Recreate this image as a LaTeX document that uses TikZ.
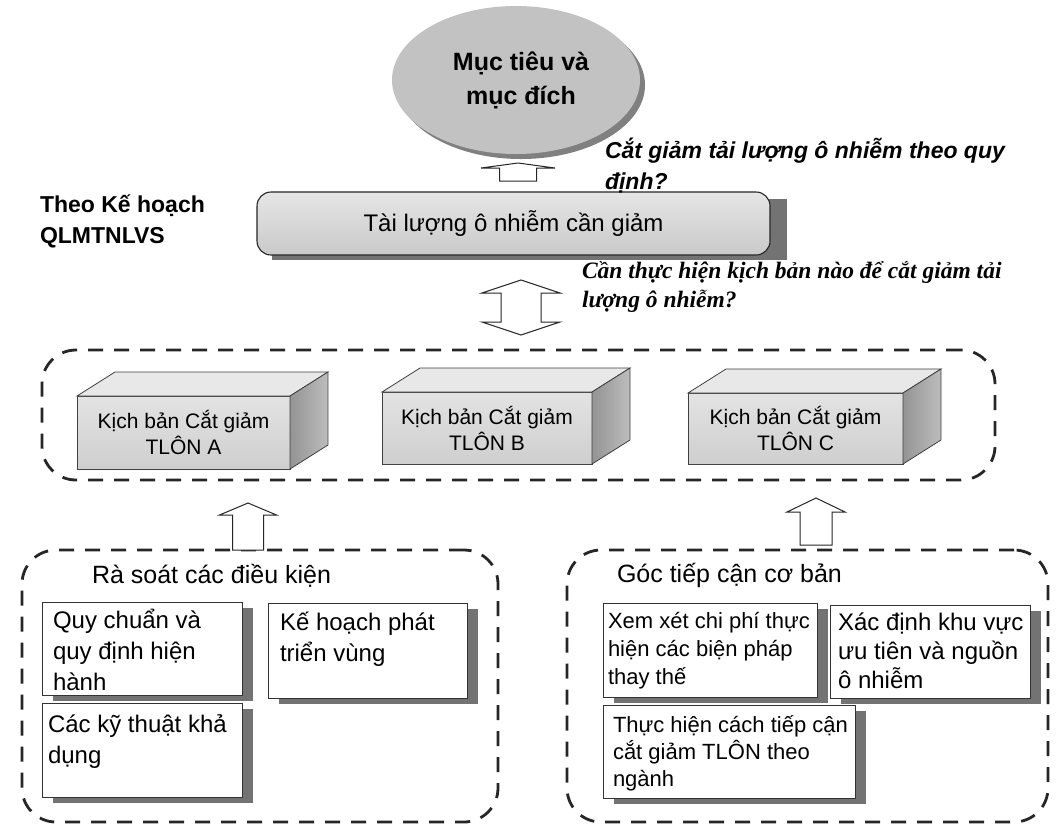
\documentclass[tikz,border=0pt]{standalone}
\usepackage{fontspec}
\setmainfont{Liberation Sans}
\newfontfamily\timesfont{Liberation Serif}
\usetikzlibrary{calc,shapes.geometric,shadows}
\newcommand\tstrut[1]{\rule{0pt}{#1pt}}

\begin{document}
\begin{tikzpicture}[x=1pt,y=-1pt,
  every node/.style={inner sep=0pt, outer sep=0pt},
  container/.style={draw=black!85, line width=2.8pt, dash pattern=on 15pt off 11pt, rounded corners=34pt},
  cubefront/.style={draw=black!75, line width=0.8pt, top color=black!11, bottom color=black!19,
    align=center, font=\fontsize{21}{26}\selectfont},
  cubetop/.style={draw=black!75, line width=0.8pt, fill=black!9},
  cubeside/.style={draw=black!75, line width=0.8pt, left color=black!42, right color=black!26},
  innerbox/.style={draw=black!80, line width=1pt, fill=white, anchor=north west,
    drop shadow={shadow xshift=11pt, shadow yshift=-6pt, fill=black!55, opacity=1}},
  itext/.style={anchor=north west, align=left, font=\fontsize{24}{31}\selectfont},
  itextsmall/.style={anchor=north west, align=left, font=\fontsize{22}{28}\selectfont},
  heading/.style={anchor=base west, font=\fontsize{25}{30}\selectfont},
  blockarrow/.style={draw=black!85, line width=1pt, fill=white, line join=miter},
  pics/uparrow/.style args={#1/#2/#3/#4}{code={%
    \draw[blockarrow] (-#1,0) -- (-#1,-#4+#3) -- (-#2,-#4+#3) -- (0,-#4)
      -- (#2,-#4+#3) -- (#1,-#4+#3) -- (#1,0) -- cycle;}},
  pics/updownarrow/.style args={#1/#2/#3/#4}{code={%
    \draw[blockarrow] (0,-#4/2) -- (#2,-#4/2+#3) -- (#1,-#4/2+#3) -- (#1,#4/2-#3)
      -- (#2,#4/2-#3) -- (0,#4/2) -- (-#2,#4/2-#3) -- (-#1,#4/2-#3)
      -- (-#1,-#4/2+#3) -- (-#2,-#4/2+#3) -- cycle;}},
]
\useasboundingbox (0,0) rectangle (1056,828);
\fill[white] (0,0) rectangle (1056,828);

% goal ellipse with its darker rim
\node[ellipse, fill=black!24, minimum width=248pt, minimum height=148pt,
  drop shadow={shadow xshift=5pt, shadow yshift=-5pt, fill=black!50, opacity=1}] (goal) at (516,80) {};
\node[anchor=north, align=center, font=\bfseries\fontsize{25}{34}\selectfont] (goaltext) at (521,46)
  {\tstrut{24}Mục tiêu và\\mục đích};

% pollution load box
\fill[black!55] (272,199) rectangle (787,260);
\node[draw=black!85, line width=1.1pt, rounded corners=14pt, top color=black!10, bottom color=black!21,
  minimum width=513pt, minimum height=63pt, font=\fontsize{24}{28}\selectfont] (load) at (513.5,223.5)
  {Tài lượng ô nhiễm cần giảm};

\node[anchor=north west, align=left, font=\bfseries\fontsize{23}{31}\selectfont] (plan) at (40,190)
  {\tstrut{22}Theo Kế hoạch\\QLMTNLVS};
\node[anchor=north west, align=left, font=\bfseries\itshape\fontsize{23}{31}\selectfont] (q1) at (605,137)
  {\tstrut{21}Cắt giảm tải lượng ô nhiễm theo quy\\định?};
\node[anchor=north west, align=left, font=\timesfont\bfseries\itshape\fontsize{23.5}{29}\selectfont] (q2) at (582,254)
  {\tstrut{24}Cần thực hiện kịch bản nào để cắt giảm tải\\lượng ô nhiễm?};

% scenario group
\node[container, minimum width=953pt, minimum height=130pt] (scen) at (518.5,415) {};
\node[cubefront, minimum width=213pt, minimum height=73pt] (scA) at (183.5,432.5) {Kịch bản Cắt giảm\\TLÔN A};
\node[cubefront, minimum width=210pt, minimum height=72pt] (scB) at (487,428) {Kịch bản Cắt giảm\\TLÔN B};
\node[cubefront, minimum width=215pt, minimum height=71pt] (scC) at (795.5,428.5) {Kịch bản Cắt giảm\\TLÔN C};
\foreach \n in {scA,scB,scC}{
  \path[cubetop] (\n.north west) -- ++(38,-24) -- ($(\n.north east)+(38,-24)$) -- (\n.north east) -- cycle;
  \path[cubeside] (\n.north east) -- ++(38,-24) -- ($(\n.south east)+(38,-24)$) -- (\n.south east) -- cycle;
}

% review of conditions
\node[container, minimum width=476pt, minimum height=272pt] (review) at (260,686) {};
\node[heading] (revtitle) at (92,583) {Rà soát các điều kiện};
\node[innerbox, minimum width=200pt, minimum height=93pt] (qc) at (42,602) {};
\node[itext] (qctext) at ($(qc.north west)+(11,0)$) {\tstrut{26}Quy chuẩn và\\quy định hiện\\hành};
\node[innerbox, minimum width=199pt, minimum height=95pt] (kh) at (268,603) {};
\node[itext] (khtext) at ($(kh.north west)+(12,0)$) {\tstrut{27}Kế hoạch phát\\triển vùng};
\node[innerbox, minimum width=200pt, minimum height=94pt] (ck) at (42,703) {};
\node[itext] (cktext) at ($(ck.north west)+(6,0)$) {\tstrut{29}Các kỹ thuật khả\\dụng};

% basic approach
\node[container, minimum width=481pt, minimum height=272pt] (approach) at (807.5,686) {};
\node[heading] (apptitle) at (617,582) {Góc tiếp cận cơ bản};
\node[innerbox, minimum width=214pt, minimum height=94pt] (xx) at (603,603) {};
\node[itextsmall] (xxtext) at ($(xx.north west)+(5,0)$) {\tstrut{25}Xem xét chi phí thực\\hiện các biện pháp\\thay thế};
\node[innerbox, minimum width=200pt, minimum height=93pt] (xd) at (830,605) {};
\node[itext, font=\fontsize{24}{29}\selectfont] (xdtext) at ($(xd.north west)+(8,0)$) {\tstrut{25}Xác định khu vực\\ưu tiên và nguồn\\ô nhiễm};
\node[innerbox, minimum width=252pt, minimum height=93pt] (th) at (603,705) {};
\node[itextsmall, font=\fontsize{22}{27}\selectfont] (thtext) at ($(th.north west)+(10,0)$) {\tstrut{27}Thực hiện cách tiếp cận\\cắt giảm TLÔN theo\\ngành};

% block arrows between the levels
\pic at ($(load.north)+(4.5,-11)$) {uparrow=18.5/37/5/18};
\pic at ($(load.south)!0.5!(scen.north)+(5,5)$) {updownarrow=20/39/13/55};
\pic at ($(review.north)+(-12,0)$) {uparrow=15.5/28.5/12/47};
\pic at ($(approach.north)+(8.5,-5)$) {uparrow=16/29/14/47};
\end{tikzpicture}
\end{document}
